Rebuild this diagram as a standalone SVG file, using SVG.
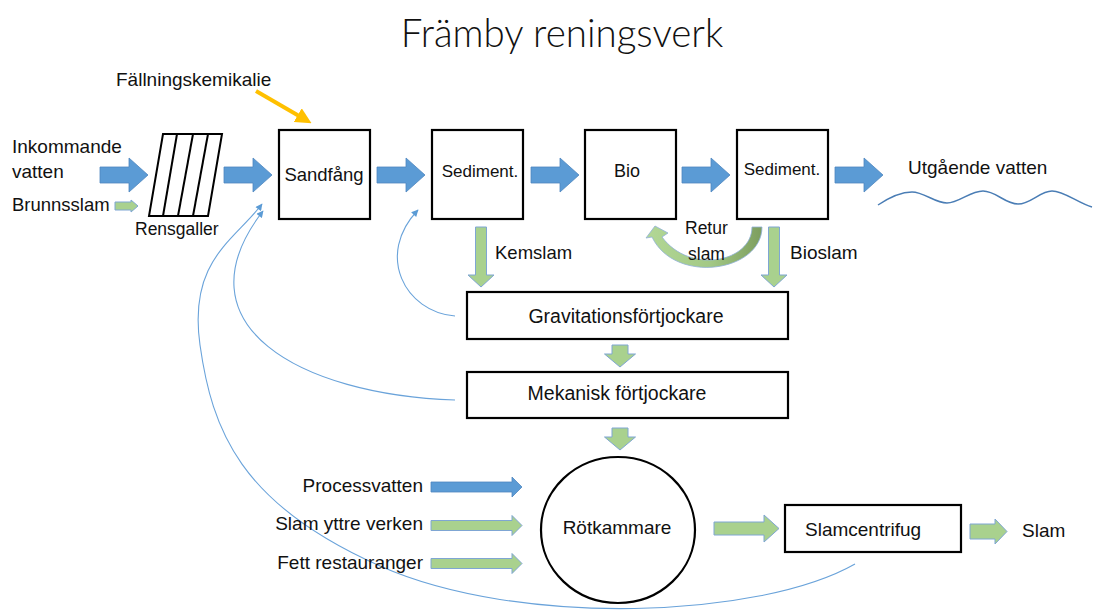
<svg xmlns="http://www.w3.org/2000/svg" xmlns:xlink="http://www.w3.org/1999/xlink" width="1094" height="612" viewBox="0 0 1094 612">
<style>
  text { font-family: "Liberation Sans", Arial, sans-serif; fill: #111; font-size: 19px; }
  .title { font-family: "Lato", "Liberation Sans", sans-serif; font-weight: 300; font-size: 38.5px; }
  .box { fill: #fff; stroke: #000; stroke-width: 2.2; }
  .blue { fill: #5B9BD5; stroke: #4F86BF; stroke-width: 0.8; }
  .green { fill: #A9D18E; stroke: #7FA6D3; stroke-width: 1; }
  .thin { fill: none; stroke: #6AA3DA; stroke-width: 1.1; marker-end: url(#thinHead); }
  .mid { text-anchor: middle; }
  .end { text-anchor: end; }
</style>
<defs>
  <marker id="thinHead" viewBox="0 0 10 10" refX="9" refY="5" markerWidth="8" markerHeight="7" markerUnits="userSpaceOnUse" orient="auto">
    <path d="M0,0 L10,5 L0,10 z" fill="#5B9BD5"/>
  </marker>
  <marker id="yellowHead" viewBox="0 0 10 10" refX="6" refY="5" markerWidth="4" markerHeight="4" orient="auto">
    <path d="M0,0 L10,5 L0,10 z" fill="#FFC000"/>
  </marker>
  <path id="bigArrow" d="M0,-8 H29 V-17 L48,0 L29,17 V8 H0 Z"/>
  <path id="downArrow" d="M-5.5,0 V48 H-13 L0,60 L13,48 H5.5 V0 Z"/>
  <path id="smallDown" d="M-8,0 V9 H-15.5 L0,22 L15.5,9 H8 V0 Z"/>
  <path id="sideArrow" d="M0,-5 H81 V-10 L91,0 L81,10 V5 H0 Z"/>
  <linearGradient id="returGrad" x1="0" y1="0" x2="1" y2="0">
    <stop offset="0" stop-color="#B2D796"/>
    <stop offset="0.55" stop-color="#A3C985"/>
    <stop offset="1" stop-color="#7C9D5E"/>
  </linearGradient>
</defs>

<text class="title mid" x="562" y="47">Främby reningsverk</text>

<g id="connectors">
  <!-- blue main flow arrows -->
  <use href="#bigArrow" class="blue" x="100" y="175"/>
  <use href="#bigArrow" class="blue" x="224" y="175"/>
  <use href="#bigArrow" class="blue" x="377" y="175"/>
  <use href="#bigArrow" class="blue" x="531" y="175"/>
  <use href="#bigArrow" class="blue" x="682" y="175"/>
  <use href="#bigArrow" class="blue" x="835" y="175"/>
  <!-- Brunnsslam small arrow -->
  <path class="green" d="M115,202 H131 V200 L138,206 L131,212 V210 H115 Z"/>
  <!-- Fällningskemikalie arrow -->
  <line x1="256" y1="91" x2="306" y2="120" stroke="#FFC000" stroke-width="4" marker-end="url(#yellowHead)"/>
  <!-- down arrows -->
  <use href="#downArrow" class="green" x="481" y="227"/>
  <use href="#downArrow" class="green" x="774" y="227"/>
  <use href="#smallDown" class="green" x="620" y="345"/>
  <use href="#smallDown" class="green" x="620" y="428"/>
  <!-- Retur slam curved arrow -->
  <path d="M752,227 C752,262 690,275 662,237 L668,233 L655,226 L646,238 L652,237 C675,285 762,272 762,227 Z" fill="url(#returGrad)" stroke="#8FB0D8" stroke-width="0.8"/>
  <!-- side inputs to Rötkammare -->
  <use href="#sideArrow" class="blue" x="431" y="487"/>
  <use href="#sideArrow" class="green" x="431" y="525.5"/>
  <use href="#sideArrow" class="green" x="431" y="563.5"/>
  <!-- Rötkammare to Slamcentrifug -->
  <path class="green" d="M714,522 H764 V515 L779,528.5 L764,542 V535 H714 Z"/>
  <!-- Slamcentrifug to Slam -->
  <path class="green" d="M970,524 H995 V519 L1007,531.5 L995,544 V539 H970 Z"/>
  <!-- thin return curves -->
  <path class="thin" d="M455,316 C405,312 375,255 418,210"/>
  <path class="thin" d="M455,400 C300,395 175,325 263,211"/>
  <path class="thin" d="M855,564 C760,618 520,628 380,566 S212,430 200,345 S235,240 262,204"/>
  <!-- outgoing water wave -->
  <path d="M878,205 C890,197 900,192 912,192 S935,203 947,203 S970,191 983,191 S1005,204 1018,204 S1040,191 1052,191 S1078,203 1092,207" fill="none" stroke="#4A7DB5" stroke-width="1.5"/>
</g>

<g id="rensgaller">
  <path d="M163,134 H222 L208,216 H149 Z" fill="#fff" stroke="#000" stroke-width="2"/>
  <line x1="177" y1="134" x2="163" y2="216" stroke="#000" stroke-width="2"/>
  <line x1="193" y1="134" x2="178" y2="216" stroke="#000" stroke-width="2"/>
  <line x1="208" y1="134" x2="193" y2="216" stroke="#000" stroke-width="2"/>
</g>

<g id="sandfang">
  <rect class="box" x="279" y="130" width="91" height="89"/>
  <text class="mid" x="324" y="181" style="font-size:18.5px">Sandfång</text>
</g>
<g id="sediment1">
  <rect class="box" x="432" y="130" width="91" height="89"/>
  <text class="mid" x="480" y="177" style="font-size:17px">Sediment.</text>
</g>
<g id="bio">
  <rect class="box" x="585" y="130" width="91" height="89"/>
  <text class="mid" x="627" y="177" style="font-size:18px">Bio</text>
</g>
<g id="sediment2">
  <rect class="box" x="737" y="130" width="91" height="89"/>
  <text class="mid" x="782" y="175" style="font-size:17px">Sediment.</text>
</g>
<g id="gravitation">
  <rect class="box" x="467" y="292" width="321" height="47"/>
  <text class="mid" x="626" y="323" style="font-size:19.5px">Gravitationsförtjockare</text>
</g>
<g id="mekanisk">
  <rect class="box" x="467" y="372" width="321" height="46"/>
  <text class="mid" x="617" y="400" style="font-size:19.5px">Mekanisk förtjockare</text>
</g>
<g id="rotkammare">
  <ellipse class="box" cx="618" cy="530" rx="77" ry="73"/>
  <text class="mid" x="617" y="534">Rötkammare</text>
</g>
<g id="slamcentrifug">
  <rect class="box" x="785" y="505" width="176" height="47"/>
  <text x="805" y="536">Slamcentrifug</text>
</g>

<g id="labels">
  <text x="116" y="86">Fällningskemikalie</text>
  <text x="12" y="153">Inkommande</text>
  <text x="12" y="178">vatten</text>
  <text x="12" y="211" style="font-size:18.5px">Brunnsslam</text>
  <text x="135" y="235" style="font-size:17.5px">Rensgaller</text>
  <text x="908" y="174">Utgående vatten</text>
  <text x="495" y="259" style="font-size:18.5px">Kemslam</text>
  <text x="790" y="259">Bioslam</text>
  <text x="685" y="234" style="font-size:17.5px">Retur</text>
  <text x="688" y="260" style="font-size:17.5px">slam</text>
  <text class="end" x="423" y="492">Processvatten</text>
  <text class="end" x="423" y="530">Slam yttre verken</text>
  <text class="end" x="423" y="569">Fett restauranger</text>
  <text x="1022" y="537">Slam</text>
</g>
</svg>
